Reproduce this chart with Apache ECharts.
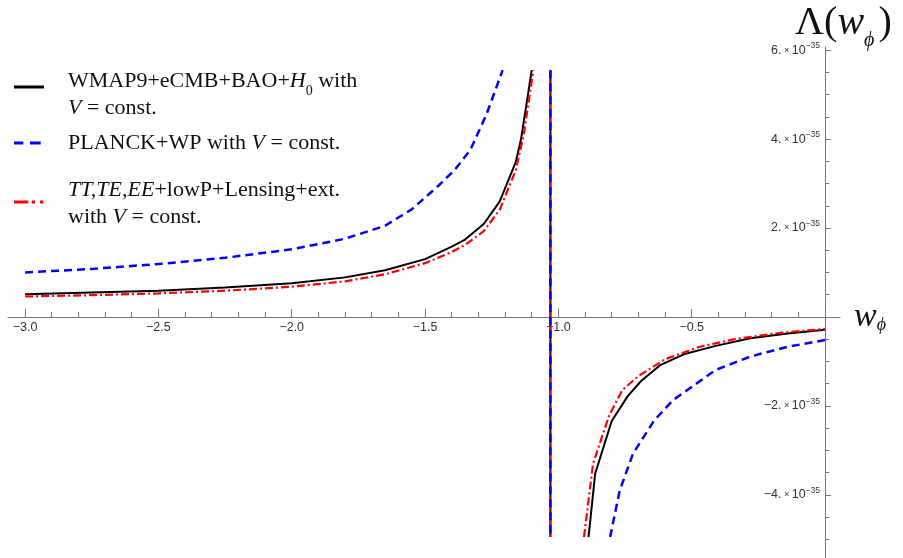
<!DOCTYPE html>
<html>
<head>
<meta charset="utf-8">
<script src="https://cdn.jsdelivr.net/npm/echarts@6/dist/echarts.min.js"></script>
<style>
  html, body { margin: 0; padding: 0; background: #fff; }
  #chart { width: 903px; height: 558px; }
</style>
</head>
<body>
<div id="chart"></div>
<script>
// values in units of 1e-35
const wmapLeft = [[-3.0, 0.51], [-2.75, 0.55], [-2.5, 0.59], [-2.25, 0.66], [-2.0, 0.76], [-1.8, 0.89],
  [-1.65, 1.05], [-1.5, 1.30], [-1.4, 1.58], [-1.35, 1.74], [-1.28, 2.09], [-1.22, 2.60], [-1.16, 3.48],
  [-1.14, 4.0], [-1.10, 5.55]]
const wmapRight = [[-0.887, -4.95], [-0.862, -3.52], [-0.80, -2.34], [-0.74, -1.78], [-0.69, -1.44],
  [-0.62, -1.09], [-0.53, -0.84], [-0.41, -0.65], [-0.28, -0.48], [-0.14, -0.37], [0, -0.29]]

const planckLeft = [[-3.0, 1.0], [-2.75, 1.08], [-2.5, 1.19], [-2.25, 1.33], [-2.0, 1.52], [-1.8, 1.76],
  [-1.65, 2.05], [-1.55, 2.42], [-1.45, 2.95], [-1.39, 3.3], [-1.33, 3.76], [-1.27, 4.55], [-1.209, 5.55]]
const planckRight = [[-0.806, -4.95], [-0.77, -3.90], [-0.72, -3.07], [-0.64, -2.32], [-0.57, -1.87],
  [-0.49, -1.53], [-0.41, -1.19], [-0.28, -0.89], [-0.14, -0.67], [0, -0.52]]

const ttLeft = [[-3.0, 0.46], [-2.75, 0.49], [-2.5, 0.53], [-2.25, 0.59], [-2.0, 0.68], [-1.8, 0.80],
  [-1.65, 0.96], [-1.5, 1.21], [-1.4, 1.46], [-1.35, 1.62], [-1.28, 1.93], [-1.22, 2.41], [-1.16, 3.30],
  [-1.13, 4.1], [-1.094, 5.55]]
const ttRight = [[-0.904, -4.95], [-0.87, -3.30], [-0.81, -2.22], [-0.76, -1.64], [-0.70, -1.33],
  [-0.60, -0.95], [-0.47, -0.67], [-0.34, -0.50], [-0.16, -0.35], [0, -0.27]]

// jump across the pole, drawn as a vertical segment
const poleW = -1.03
const poleTop = 5.55
const poleBottom = -4.95

const xTicks = [-3.0, -2.5, -2.0, -1.5, -1.0, -0.5, 0]
const xLabels = [-3.0, -2.5, -2.0, -1.5, -1.0, -0.5]
const yTicks = [-4, -2, 0, 2, 4, 6]
const yLabels = [-4, -2, 2, 4, 6]
const yExp = -35

const seriesNames = [
  'WMAP9+eCMB+BAO+H0 with V = const.',
  'PLANCK+WP with V = const.',
  'TT,TE,EE+lowP+Lensing+ext. with V = const.'
]

const gap = ['-', '-']
const withPole = (left, right) => [...left, gap, [poleW, poleTop], [poleW, poleBottom], gap, ...right]

const xMin = -3.064, xMax = 0.056, yMin = -5.42, yMax = 6.07
const xMinor = [], yMinor = []
for (let i = -30; i <= 0; i++) if (i % 5 !== 0) xMinor.push(i / 10)
for (let i = -10; i <= 12; i++) if (i % 4 !== 0) yMinor.push(i / 2)

// axes cross at the origin, Mathematica style
const G = { left: 8, right: 63, top: 47, bottom: 0 }
const gridW = 903 - G.left - G.right
const gridH = 558 - G.top - G.bottom
const xAxisOffset = -gridH * (0 - yMin) / (yMax - yMin)
const yAxisOffset = -gridW * (0 - xMin) / (xMax - xMin)

const minus = (s) => String(s).replace('-', '\u2212')
const tickColor = '#777'
const serif = 'Liberation Serif'

const chart = echarts.init(document.getElementById('chart'))

const legendRich = {
  n: { fontFamily: serif, fontSize: 22, color: '#111', lineHeight: 27 },
  i: { fontFamily: serif, fontStyle: 'italic', fontSize: 22, color: '#111', lineHeight: 27 },
  s: { fontFamily: serif, fontSize: 14, color: '#111', lineHeight: 27, verticalAlign: 'bottom', padding: [0, 0, -4, 0] }
}
const legendText = {
  [seriesNames[0]]: '{n|WMAP9+eCMB+BAO+}{i|H}{s|0}{n| with}\n{i|V}{n| = const.}',
  [seriesNames[1]]: '{n|PLANCK+WP with }{i|V}{n| = const.}',
  [seriesNames[2]]: '{i|TT,TE,EE}{n|+lowP+Lensing+ext.}\n{n|with }{i|V}{n| = const.}'
}
// line samples drawn as icons: solid, dashed, dash-dot
const legendIcons = [
  { icon: 'path://M0,0h30v3h-30zM0,17.99h0.01v0.01z', h: 18, top: 65 },
  { icon: 'path://M0,0h9.3v3h-9.3zM16,0h10.7v3h-10.7zM29.99,2.99h0.01v0.01z', h: 3, top: 127 },
  { icon: 'path://M0,0h14.3v3h-14.3zM17.7,0h3.3v3h-3.3zM26,0h3.3v3h-3.3zM29.99,5.99h0.01v0.01z', h: 6, top: 174 }
]

const legends = legendIcons.map((it, k) => ({
  data: [{ name: seriesNames[k], icon: it.icon }],
  orient: 'vertical',
  left: 9,
  top: it.top,
  itemWidth: 30,
  itemHeight: it.h,
  symbolKeepAspect: false,
  selectedMode: false,
  formatter: (name) => legendText[name],
  textStyle: { rich: legendRich, padding: [0, 0, 0, 19] }
}))

chart.setOption({
  animation: false,
  grid: { left: G.left, right: G.right, top: G.top, bottom: G.bottom, containLabel: false, outerBoundsMode: 'none' },
  legend: legends,
  xAxis: [
    {
      type: 'value', min: xMin, max: xMax, position: 'bottom', offset: xAxisOffset,
      axisLine: { onZero: false, lineStyle: { color: tickColor, width: 1 } },
      axisTick: { inside: true, length: 8, customValues: xTicks, lineStyle: { color: tickColor } },
      axisLabel: {
        customValues: xLabels, margin: 4, fontSize: 12.5, color: '#333', fontFamily: 'Liberation Sans',
        formatter: (v) => minus(v.toFixed(1))
      },
      splitLine: { show: false },
      name: '{w|w}{p|\u03d5}',
      nameLocation: 'end',
      nameGap: 14,
      nameMoveOverlap: false,
      nameTextStyle: {
        rich: {
          w: { fontFamily: serif, fontStyle: 'italic', fontSize: 34, color: '#111' },
          p: { fontFamily: serif, fontStyle: 'italic', fontSize: 18, color: '#111', verticalAlign: 'bottom' }
        }
      }
    },
    {
      type: 'value', min: xMin, max: xMax, position: 'bottom', offset: xAxisOffset,
      axisLine: { show: false, onZero: false },
      axisTick: { inside: true, length: 5, customValues: xMinor, lineStyle: { color: tickColor } },
      axisLabel: { show: false },
      splitLine: { show: false }
    }
  ],
  yAxis: [
    {
      type: 'value', min: yMin, max: yMax, position: 'left', offset: yAxisOffset,
      axisLine: { onZero: false, lineStyle: { color: tickColor, width: 1 } },
      axisTick: { inside: true, length: 6, customValues: yTicks, lineStyle: { color: tickColor } },
      axisLabel: {
        customValues: yLabels, margin: 5,
        formatter: (v) => `{m|${minus(v)}.}{x| \u00d7 }{m|10}{e|${minus(yExp)}}`,
        rich: {
          m: { fontSize: 12.5, color: '#333', fontFamily: 'Liberation Sans' },
          x: { fontSize: 9, color: '#333', fontFamily: 'Liberation Sans' },
          e: { fontSize: 8.5, color: '#333', fontFamily: 'Liberation Sans', verticalAlign: 'top', padding: [0, 0, 8, 0] }
        }
      },
      splitLine: { show: false },
      name: '{n|\u039b(}{i|w}{p|\u03d5}{n|)}',
      nameLocation: 'end',
      nameGap: 4,
      nameMoveOverlap: false,
      nameTextStyle: {
        align: 'left',
        padding: [0, 0, 0, -30],
        rich: {
          n: { fontFamily: serif, fontSize: 40, color: '#111' },
          i: { fontFamily: serif, fontStyle: 'italic', fontSize: 40, color: '#111' },
          p: { fontFamily: serif, fontStyle: 'italic', fontSize: 20, color: '#111', verticalAlign: 'bottom', padding: [0, 4, -8, 0] }
        }
      }
    },
    {
      type: 'value', min: yMin, max: yMax, position: 'left', offset: yAxisOffset,
      axisLine: { show: false, onZero: false },
      axisTick: { inside: true, length: 4, customValues: yMinor, lineStyle: { color: tickColor } },
      axisLabel: { show: false },
      splitLine: { show: false }
    }
  ],
  series: [
    {
      name: seriesNames[0], type: 'line', symbol: 'none', z: 3,
      data: withPole(wmapLeft, wmapRight),
      lineStyle: { color: '#000', width: 2 }, itemStyle: { color: '#000' }
    },
    {
      name: seriesNames[1], type: 'line', symbol: 'none', z: 5,
      data: withPole(planckLeft, planckRight),
      lineStyle: { color: '#0000ff', width: 2.5, type: [8, 5] }, itemStyle: { color: '#0000ff' }
    },
    {
      name: seriesNames[2], type: 'line', symbol: 'none', z: 4,
      data: withPole(ttLeft, ttRight),
      lineStyle: { color: '#ff0000', width: 2.2, type: [8, 3, 2, 3] }, itemStyle: { color: '#ff0000' }
    }
  ]
})
</script>
</body>
</html>
